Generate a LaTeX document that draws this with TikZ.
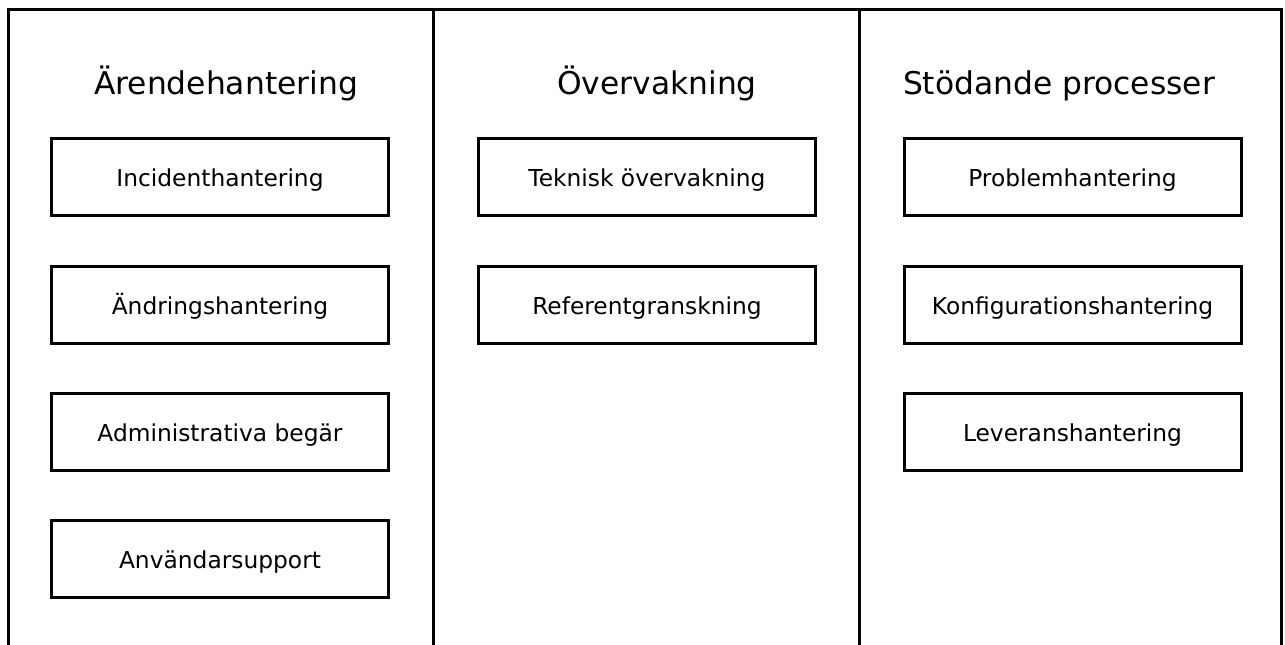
\documentclass[tikz,border=0pt]{standalone}
\usepackage{fontspec}
\setmainfont{DejaVu Sans}
\usetikzlibrary{positioning}

\begin{document}
\begin{tikzpicture}[x=0.75pt,y=-0.75pt,
		proc/.style={draw,line width=2.25pt,minimum width=252.75pt,minimum height=57.75pt,
			inner sep=0pt,text height=16pt,text depth=1.5pt,font=\fontsize{17.5}{20}\selectfont},
		head/.style={font=\fontsize{23.5}{28}\selectfont,anchor=base},
		wall/.style={line width=2.25pt}]
		\useasboundingbox (0,0) rectangle (1285,644);
		% frame and columns
		\draw[wall] (8.5,720) -- (8.5,9.5) -- (1281.5,9.5) -- (1281.5,720);
		\draw[wall] (433.5,9.5) -- (433.5,720);
		\draw[wall] (859.5,9.5) -- (859.5,720);
		% headings
		\node[head] (arende) at (226,94) {Ärendehantering};
		\node[head] (overv)  at (657,94) {Övervakning};
		\node[head] (stod)   at (1059,94) {Stödande processer};
		% Ärendehantering
		\node[proc] (incident) at (220,177)   {Incidenthantering};
		\node[proc] (andring)  at (220,304.5) {Ändringshantering};
		\node[proc] (admin)    at (220,432)   {Administrativa begär};
		\node[proc] (anvsupp)  at (220,559)   {Användarsupport};
		% Övervakning
		\node[proc] (teknisk)  at (647,177)   {Teknisk övervakning};
		\node[proc] (referent) at (647,304.5) {Referentgranskning};
		% Stödande processer
		\node[proc] (problem)  at (1072.5,177)   {Problemhantering};
		\node[proc] (konfig)   at (1072.5,304.5) {Konfigurationshantering};
		\node[proc] (leverans) at (1072.5,432)   {Leveranshantering};
	\end{tikzpicture}
\end{document}
